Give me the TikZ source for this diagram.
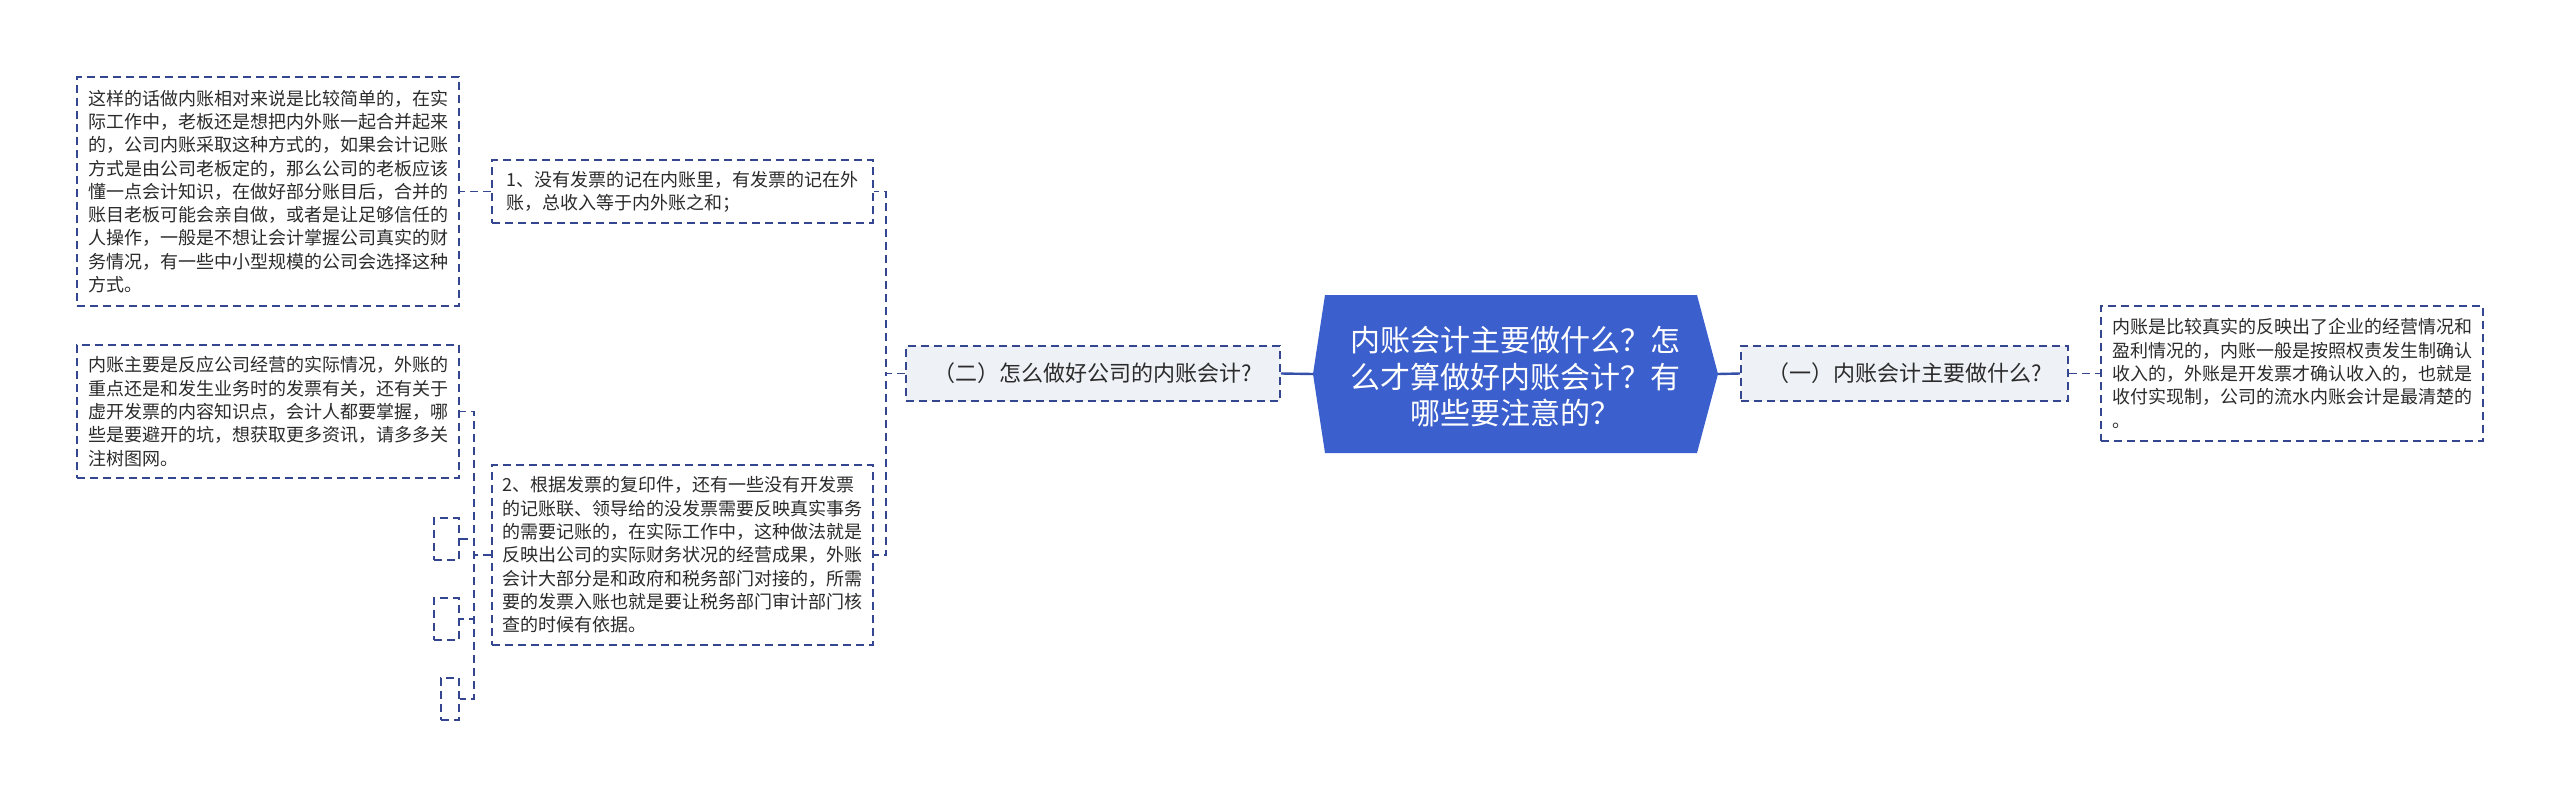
\documentclass[tikz,border=0pt]{standalone}
\usepackage{fontspec}
\setmainfont{Noto Sans CJK SC}
\definecolor{rootblue}{HTML}{3B5FCC}
\definecolor{linkblue}{HTML}{3550A8}
\definecolor{dashblue}{HTML}{34468F}
\definecolor{subfill}{HTML}{EEF1F6}
\definecolor{txt}{HTML}{2B2B2B}
\tikzset{
  leafbox/.style={draw=dashblue, line width=1.8pt, dash pattern=on 8pt off 5pt, fill=white,
    inner sep=0pt, align=left, text=txt, font=\fontsize{18}{23.3}\selectfont},
  subbox/.style={draw=dashblue, line width=1.8pt, dash pattern=on 8pt off 5pt, fill=subfill,
    inner sep=0pt, text=txt, font=\fontsize{22}{26}\selectfont},
  link/.style={draw=linkblue, line width=2.4pt},
  dlink/.style={draw=dashblue, line width=1.8pt, dash pattern=on 8pt off 5pt},
}
\begin{document}
\begin{tikzpicture}[x=1pt,y=-1pt]
\useasboundingbox (0,0) rectangle (2560,798);
% root
\path[fill=rootblue] (1313,374) -- (1325,295) -- (1697,295) -- (1718,374) -- (1697,453) -- (1325,453) -- cycle;
\node[text=white, align=center, font=\fontsize{30}{36.5}\selectfont] (root) at (1515.5,377)
  {内账会计主要做什么？怎\\么才算做好内账会计？有\\哪些要注意的？};
\coordinate (rootW) at (1313,374);
\coordinate (rootE) at (1718,374);
% sub nodes
\node[subbox, minimum width=374pt, minimum height=55pt] (er) at (1093,373.5) {（二）怎么做好公司的内账会计?};
\node[subbox, minimum width=327pt, minimum height=55pt] (yi) at (1904.5,373.5) {（一）内账会计主要做什么?};
% right leaf
\node[leafbox, minimum width=382pt, minimum height=135pt] (r1) at (2292,373.5)
  {内账是比较真实的反映出了企业的经营情况和\\盈利情况的，内账一般是按照权责发生制确认\\收入的，外账是开发票才确认收入的，也就是\\收付实现制，公司的流水内账会计是最清楚的\\。};
% left level 2
\node[leafbox, minimum width=381pt, minimum height=63pt] (n1) at (682.5,191.5)
  {1、没有发票的记在内账里，有发票的记在外\\账，总收入等于内外账之和；};
\node[leafbox, minimum width=381pt, minimum height=180pt] (n2) at (682.5,555)
  {2、根据发票的复印件，还有一些没有开发票\\的记账联、领导给的没发票需要反映真实事务\\的需要记账的，在实际工作中，这种做法就是\\反映出公司的实际财务状况的经营成果，外账\\会计大部分是和政府和税务部门对接的，所需\\要的发票入账也就是要让税务部门审计部门核\\查的时候有依据。};
% left level 3
\node[leafbox, minimum width=382pt, minimum height=229pt] (b1) at (268,191.5)
  {这样的话做内账相对来说是比较简单的，在实\\际工作中，老板还是想把内外账一起合并起来\\的，公司内账采取这种方式的，如果会计记账\\方式是由公司老板定的，那么公司的老板应该\\懂一点会计知识，在做好部分账目后，合并的\\账目老板可能会亲自做，或者是让足够信任的\\人操作，一般是不想让会计掌握公司真实的财\\务情况，有一些中小型规模的公司会选择这种\\方式。};
\node[leafbox, minimum width=382pt, minimum height=133pt] (b2) at (268,411.5)
  {内账主要是反应公司经营的实际情况，外账的\\重点还是和发生业务时的发票有关，还有关于\\虚开发票的内容知识点，会计人都要掌握，哪\\些是要避开的坑，想获取更多资讯，请多多关\\注树图网。};
\node[leafbox, minimum width=25pt, minimum height=42pt] (e1) at (446.5,539) {};
\node[leafbox, minimum width=25pt, minimum height=42pt] (e2) at (446.5,619) {};
\node[leafbox, minimum width=18pt, minimum height=42pt] (e3) at (450,699) {};
% connectors
\draw[link] (rootW) -- (er.east);
\draw[link] (rootE) -- (yi.west);
\draw[dlink] (yi.east) -- (r1.west);
\draw[dlink] (er.west) -- ++(-19,0) |- (n1.east);
\draw[dlink] (er.west) -- ++(-19,0) |- (n2.east);
\draw[dlink] (n1.west) -- (b1.east);
\draw[dlink] (n2.west) -- ++(-17,0) |- (b2.east);
\draw[dlink] (n2.west) -- ++(-17,0) |- (e1.east);
\draw[dlink] (n2.west) -- ++(-17,0) |- (e2.east);
\draw[dlink] (n2.west) -- ++(-17,0) |- (e3.east);
\end{tikzpicture}
\end{document}
